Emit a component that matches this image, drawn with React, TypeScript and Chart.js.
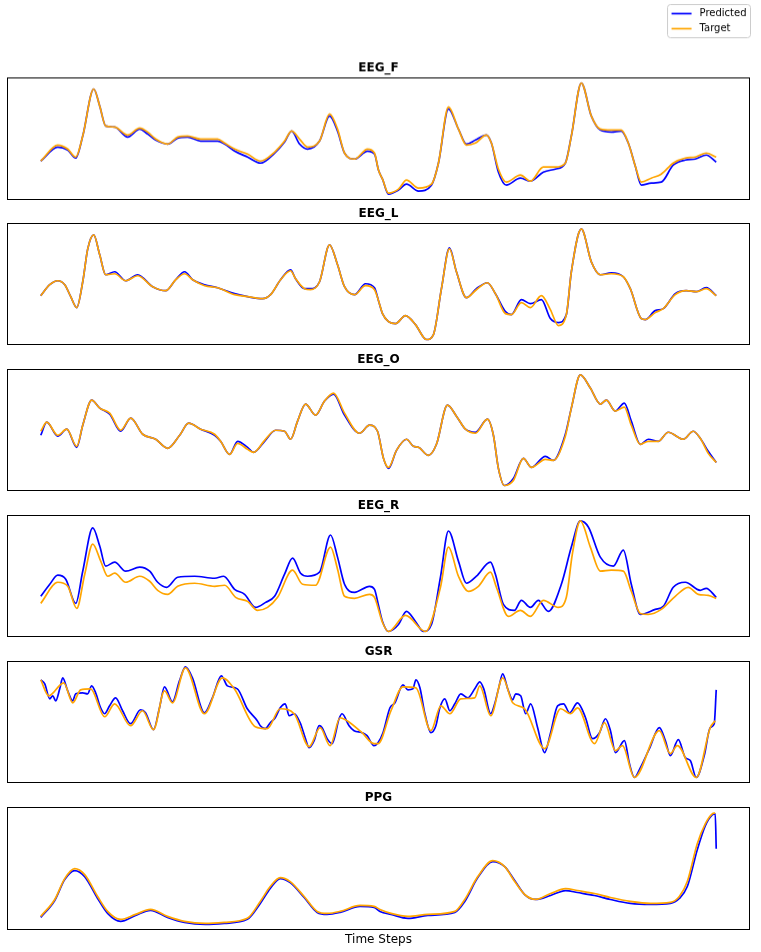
import React, { useEffect, useRef } from "react";
import { Chart, registerables } from "chart.js";

Chart.register(...registerables);

// ---------------- data ----------------
const eegFTime = [0,17,27,35,42,53,59,65,74,87,99,107,115,127,137,147,160,177,184,194,207,220,234,244,251,259,267,279,289,297,304,314,327,334,338,342,348,358,366,378,391,398,408,418,426,435,446,451,458,466,480,490,503,515,525,531,541,551,560,571,581,588,595,601,611,621,633,645,655,666,676];
const eegFTarget = [39,55,51,43,64,111,94,74,73,65,72,68,61,56,63,64,61,61,57,51,46,39,48,59,69,61,53,59,86,71,47,41,51,47,30,21,7,11,20,12,16,37,93,71,55,57,65,57,31,18,25,19,33,33,37,64,117,84,71,70,70,57,34,18,22,26,37,42,43,47,43];
const eegFPred = [39,53,50,42,64,111,94,74,73,63,71,66,60,56,62,63,59,59,56,49,43,37,47,58,69,56,51,59,84,69,47,41,49,46,30,21,6,10,16,9,15,37,91,71,56,60,65,57,28,15,22,19,28,31,37,64,117,84,70,68,69,57,34,15,17,18,35,40,41,45,38];

const eegLTime = [0,9,17,24,30,36,42,47,53,59,65,74,85,97,112,125,135,144,152,164,177,194,207,222,230,240,250,255,264,270,279,289,297,304,314,325,334,338,342,348,355,365,375,386,393,401,409,416,426,436,447,455,465,471,481,490,501,510,518,526,531,541,551,560,571,583,590,601,605,615,623,635,646,656,666,676];
const eegLTarget = [52,63,67,63,51,40,66,99,113,93,73,74,67,72,61,57,68,74,68,62,60,53,51,49,53,68,77,69,59,58,66,103,83,61,53,62,58,47,34,26,24,32,23,8,13,59,99,76,50,58,65,54,34,33,45,40,52,38,22,33,76,119,86,73,74,71,59,29,28,35,39,53,57,56,59,52];
const eegLPred = [52,63,67,63,51,40,66,99,113,93,73,76,67,73,61,57,68,76,68,63,60,54,51,49,53,68,78,69,59,59,66,103,83,61,53,64,60,47,34,26,24,32,23,8,13,59,100,76,50,59,65,54,36,33,48,44,48,29,25,33,76,119,86,73,75,71,59,29,28,37,39,54,57,56,60,52];

const eegOTime = [0,6,17,26,36,42,51,59,69,80,90,102,115,127,139,148,160,174,180,189,197,207,213,224,235,244,250,257,265,275,284,293,304,319,329,337,343,348,356,366,373,378,388,396,407,416,425,435,447,453,458,464,473,483,491,505,513,525,531,540,550,560,566,575,584,591,600,608,618,628,643,653,660,668,676];
const eegOTarget = [61,70,57,63,46,67,92,84,79,62,74,58,53,44,57,69,63,58,51,38,49,43,40,52,62,61,53,71,88,77,91,99,79,59,67,61,34,25,42,53,46,45,37,48,87,76,63,59,73,57,24,7,12,34,25,33,32,56,84,117,104,88,92,81,85,67,48,51,51,60,53,61,54,39,30];
const eegOPred = [57,70,56,63,45,67,92,84,78,61,74,58,53,44,57,69,63,57,51,38,51,45,40,51,62,61,53,71,88,77,91,98,77,59,67,61,34,24,42,53,46,45,37,48,87,76,63,60,73,57,24,7,14,34,25,36,32,58,84,117,104,88,92,81,89,71,48,53,51,60,53,61,54,41,30];

const eegRPredTime = [0,9,17,25,35,42,52,59,65,74,85,99,109,117,126,137,154,174,183,194,204,215,225,234,244,252,260,267,279,290,297,304,314,329,334,338,342,348,358,366,375,383,391,400,408,418,426,436,450,455,463,474,481,490,498,508,521,531,540,548,560,573,583,591,600,615,623,633,645,660,666,676];
const eegRPred = [42,54,63,59,35,67,110,92,72,76,67,71,67,56,51,61,62,60,62,49,44,31,36,42,64,80,65,62,66,103,81,54,46,52,49,33,17,7,14,27,17,7,14,61,107,77,55,62,76,64,34,28,38,31,38,27,54,91,117,111,81,72,88,54,24,29,32,51,56,48,50,41];
const eegRTargetTime = [0,17,27,36,44,52,60,67,74,85,99,109,117,127,137,154,174,184,195,207,217,227,237,252,262,275,290,297,304,314,329,334,342,348,365,385,400,408,418,428,438,450,456,468,480,490,503,518,526,532,540,550,560,571,583,591,600,608,621,635,648,658,668,676];
const eegRTarget = [35,56,52,30,64,94,77,62,65,56,62,57,48,44,52,55,52,53,41,37,28,31,41,68,54,53,91,69,42,40,44,41,16,7,23,7,51,91,62,47,52,66,51,22,28,22,38,31,41,84,117,91,67,68,67,47,25,24,29,42,51,44,43,40];

const gsrPredTime = [0,4,9,12,15,19,22,27,32,35,42,47,51,55,60,64,69,75,82,90,100,105,113,119,124,132,139,145,152,164,172,181,187,197,207,217,220,225,230,235,240,245,249,254,260,265,269,274,279,282,287,292,299,302,309,314,322,327,334,338,343,350,355,363,368,373,376,380,385,391,396,400,405,410,415,421,428,435,440,444,451,455,459,463,468,473,476,481,486,491,498,505,511,518,524,530,538,546,553,560,566,571,576,585,590,595,601,610,620,626,631,639,646,651,657,665,671,675,677];
const gsrPred = [105,101,86,89,84,96,107,94,84,91,92,91,99,92,77,71,79,87,74,61,75,72,55,77,98,83,104,118,107,72,87,109,99,96,76,64,59,56,62,67,77,81,69,71,62,47,37,44,59,57,46,41,66,71,59,54,52,49,39,42,52,77,82,100,95,96,105,97,71,52,59,77,86,74,81,91,87,96,103,96,71,81,97,111,96,85,91,89,71,81,57,32,52,79,81,72,82,67,46,52,66,54,32,44,21,7,17,36,57,44,29,45,27,24,7,29,57,61,95];
const gsrTargetTime = [0,8,23,32,40,50,64,74,90,102,113,124,132,145,164,182,194,215,227,240,254,269,280,290,300,307,322,334,338,351,363,376,391,401,410,421,435,440,451,463,473,485,505,521,531,538,555,565,576,583,595,620,631,638,657,671,676];
const gsrTarget = [105,89,102,82,95,96,68,81,59,74,55,94,82,117,71,107,96,58,56,76,71,38,57,39,67,64,52,41,41,74,98,97,54,79,71,86,87,99,69,107,82,76,36,76,71,77,41,62,34,39,7,54,31,39,7,57,64];

const ppgTargetTime = [0,14,24,34,44,57,67,80,95,110,127,144,165,184,207,220,230,240,250,264,277,287,300,320,334,340,351,368,388,415,425,438,453,465,475,485,496,511,526,538,555,571,591,611,631,640,648,658,666,673,676];
const ppgTarget = [14,31,52,62,56,34,19,11,16,21,14,9,7,8,12,29,44,53,49,34,19,17,19,25,24,21,17,14,16,19,31,54,70,64,49,36,31,37,42,40,37,33,29,27,28,34,49,87,107,117,118];
const ppgPredTime = [0,14,24,34,44,57,67,80,95,110,127,144,165,184,207,220,230,240,250,264,277,287,300,320,334,340,351,368,388,415,425,438,453,465,475,485,496,511,526,538,555,571,591,611,631,640,648,658,666,673,676,677];
const ppgPred = [13,30,51,60,54,32,17,9,15,20,13,8,6,7,11,27,42,52,48,33,18,16,18,24,23,19,16,12,15,18,29,53,69,64,50,36,31,35,40,38,35,31,27,26,27,32,44,81,105,116,117,82];

const panelTitles = ["EEG_F", "EEG_L", "EEG_O", "EEG_R", "GSR", "PPG"];
const seriesLabels = ["Predicted", "Target"];
const xAxisLabel = "Time Steps";

type Series = { t: number[]; v: number[] };
type Panel = { title: string; pred: Series; target: Series };

const panels: Panel[] = [
  { title: panelTitles[0], pred: { t: eegFTime, v: eegFPred }, target: { t: eegFTime, v: eegFTarget } },
  { title: panelTitles[1], pred: { t: eegLTime, v: eegLPred }, target: { t: eegLTime, v: eegLTarget } },
  { title: panelTitles[2], pred: { t: eegOTime, v: eegOPred }, target: { t: eegOTime, v: eegOTarget } },
  { title: panelTitles[3], pred: { t: eegRPredTime, v: eegRPred }, target: { t: eegRTargetTime, v: eegRTarget } },
  { title: panelTitles[4], pred: { t: gsrPredTime, v: gsrPred }, target: { t: gsrTargetTime, v: gsrTarget } },
  { title: panelTitles[5], pred: { t: ppgPredTime, v: ppgPred }, target: { t: ppgTargetTime, v: ppgTarget } },
];

// ---------------- layout / style ----------------
const FONT = "'DejaVu Sans', sans-serif";
const FIG_W = 761;
const FIG_H = 952;
const PAD_LEFT = 7;
const PAD_RIGHT = 11;
const BOX_TOP0 = 77;
const BOX_STEP = 146;
const BOX_H = 122.5;
const TITLE_SIZE = 12;
const TITLE_PAD_BOTTOM = 2;
const TITLE_H = TITLE_SIZE * 1.2 + TITLE_PAD_BOTTOM;
const XLABEL_SIZE = 12;
const XLABEL_PAD_TOP = 3;
const XLABEL_H = XLABEL_SIZE * 1.2 + XLABEL_PAD_TOP;
const PRED_COLOR = "#0000ff";
const TARGET_COLOR = "#ffa500";
const LINE_W = 1.7;

Chart.defaults.font.family = FONT;

function toPoints(s: Series) {
  return s.t.map((t, i) => ({ x: t, y: s.v[i] }));
}

function paddedRange(arrs: number[][]): [number, number] {
  let lo = Infinity;
  let hi = -Infinity;
  for (const a of arrs) for (const v of a) { if (v < lo) lo = v; if (v > hi) hi = v; }
  const pad = (hi - lo) * 0.05;
  return [lo - pad, hi + pad];
}

const framePlugin = {
  id: "frame",
  afterDraw(chart: any) {
    const { ctx, chartArea: a } = chart;
    ctx.save();
    ctx.strokeStyle = "#000";
    ctx.lineWidth = 1;
    const l = Math.round(a.left) + 0.5;
    const t = Math.round(a.top) + 0.5;
    const r = Math.round(a.right) - 0.5;
    const b = Math.round(a.bottom) - 0.5;
    ctx.strokeRect(l, t, r - l, b - t);
    ctx.restore();
  },
};

const figLegendPlugin = {
  id: "figLegend",
  afterDraw(chart: any, _args: any, opts: any) {
    if (!opts || !opts.show) return;
    const ctx = chart.ctx;
    const items = chart.data.datasets.map((d: any) => ({ label: d.label, color: d.borderColor }));
    const fs = 10;
    ctx.save();
    ctx.font = `${fs}px ${FONT}`;
    const textW = Math.max(...items.map((it: any) => ctx.measureText(it.label).width));
    const padX = 4;
    const handle = 20;
    const gap = 8;
    const rowH = fs;
    const spacing = 5;
    const w = padX + handle + gap + textW + padX;
    const h = 4 + items.length * rowH + (items.length - 1) * spacing + 4;
    const right = chart.chartArea.right + 0.5;
    const left = right - w;
    const top = 4.5;
    const rad = 3;
    ctx.beginPath();
    ctx.moveTo(left + rad, top);
    ctx.lineTo(left + w - rad, top);
    ctx.quadraticCurveTo(left + w, top, left + w, top + rad);
    ctx.lineTo(left + w, top + h - rad);
    ctx.quadraticCurveTo(left + w, top + h, left + w - rad, top + h);
    ctx.lineTo(left + rad, top + h);
    ctx.quadraticCurveTo(left, top + h, left, top + h - rad);
    ctx.lineTo(left, top + rad);
    ctx.quadraticCurveTo(left, top, left + rad, top);
    ctx.closePath();
    ctx.fillStyle = "rgba(255,255,255,0.8)";
    ctx.fill();
    ctx.strokeStyle = "#cccccc";
    ctx.lineWidth = 1;
    ctx.stroke();
    items.forEach((it: any, i: number) => {
      const cy = top + 4 + rowH / 2 + i * (rowH + spacing);
      ctx.strokeStyle = it.color;
      ctx.lineWidth = LINE_W;
      ctx.beginPath();
      ctx.moveTo(left + padX, cy);
      ctx.lineTo(left + padX + handle, cy);
      ctx.stroke();
      ctx.fillStyle = "#000";
      ctx.textBaseline = "middle";
      ctx.textAlign = "left";
      ctx.fillText(it.label, left + padX + handle + gap, cy);
    });
    ctx.restore();
  },
};

function PanelChart({ panel, index }: { panel: Panel; index: number }) {
  const ref = useRef<HTMLCanvasElement | null>(null);
  const isFirst = index === 0;
  const isLast = index === panels.length - 1;
  const boxTop = BOX_TOP0 + index * BOX_STEP;
  const padTop = isFirst ? boxTop - TITLE_H : 0;
  const divTop = boxTop - TITLE_H - padTop;
  const divH = padTop + TITLE_H + BOX_H + (isLast ? XLABEL_H : 0);

  useEffect(() => {
    if (!ref.current) return;
    const [ymin, ymax] = paddedRange([panel.pred.v, panel.target.v]);
    const [tlo, thi] = paddedRange([panel.pred.t, panel.target.t]);
    const chart = new Chart(ref.current, {
      type: "line",
      data: {
        datasets: [
          {
            label: seriesLabels[0],
            data: toPoints(panel.pred),
            borderColor: PRED_COLOR,
            backgroundColor: PRED_COLOR,
            borderWidth: LINE_W,
            pointRadius: 0,
            fill: false,
            order: 2,
            cubicInterpolationMode: "monotone",
          },
          {
            label: seriesLabels[1],
            data: toPoints(panel.target),
            borderColor: TARGET_COLOR,
            backgroundColor: TARGET_COLOR,
            borderWidth: LINE_W,
            pointRadius: 0,
            fill: false,
            order: 1,
            cubicInterpolationMode: "monotone",
          },
        ],
      },
      options: {
        animation: false,
        responsive: true,
        maintainAspectRatio: false,
        events: [],
        layout: { padding: { left: PAD_LEFT, right: PAD_RIGHT, top: padTop, bottom: 0 } },
        scales: {
          x: {
            type: "linear",
            min: tlo,
            max: thi,
            display: isLast,
            ticks: { display: false },
            grid: { display: false, drawTicks: false },
            border: { display: false },
            title: {
              display: isLast,
              text: xAxisLabel,
              color: "#000",
              font: { size: XLABEL_SIZE, family: FONT },
              padding: { top: XLABEL_PAD_TOP, bottom: 0 },
            },
          },
          y: { type: "linear", min: ymin, max: ymax, display: false },
        },
        plugins: {
          legend: { display: false },
          tooltip: { enabled: false },
          title: {
            display: true,
            text: panel.title,
            color: "#000",
            font: { size: TITLE_SIZE, weight: "bold", family: FONT },
            padding: { top: 0, bottom: TITLE_PAD_BOTTOM },
          },
          // @ts-ignore
          figLegend: { show: isFirst },
        },
      } as any,
      plugins: [framePlugin, figLegendPlugin],
    });
    return () => chart.destroy();
  }, [panel, index]);

  return (
    <div style={{ position: "absolute", left: 0, top: divTop, width: FIG_W, height: divH }}>
      <canvas ref={ref} />
    </div>
  );
}

export default function App() {
  return (
    <div style={{ position: "absolute", left: 0, top: 0, width: FIG_W, height: FIG_H, background: "#fff", overflow: "hidden" }}>
      {panels.map((p, i) => (
        <PanelChart key={p.title} panel={p} index={i} />
      ))}
    </div>
  );
}
